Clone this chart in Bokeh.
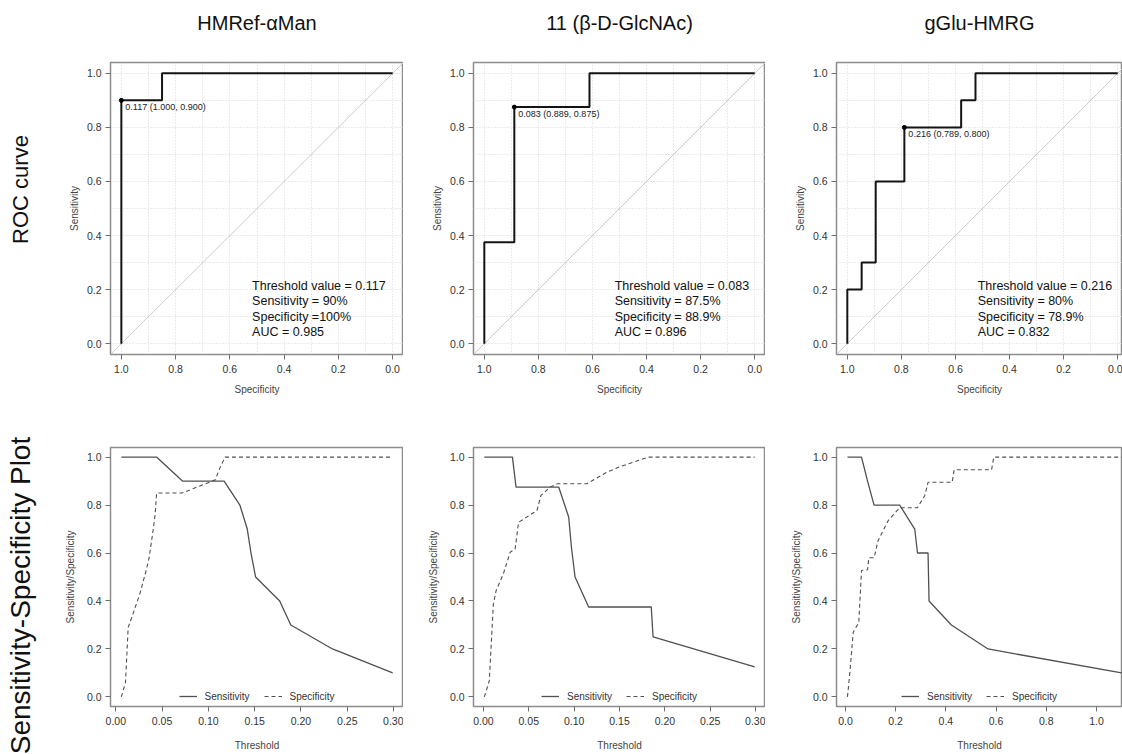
from bokeh.plotting import figure
from bokeh.layouts import row, column
from bokeh.models import (Range1d, FixedTicker, NumeralTickFormatter, Slope, Label,
                          Legend, LegendItem)
from bokeh.embed import file_html
from bokeh.resources import INLINE

FONT = "Liberation Sans"

# ---------------- data ----------------
titles = ["HMRef-\u03b1Man", "11 (\u03b2-D-GlcNAc)", "gGlu-HMRG"]
row_labels = ["ROC curve", "Sensitivity-Specificity Plot"]

roc1_spec = [1.0, 1.0, 0.85, 0.85, 0.0]
roc1_sens = [0.0, 0.9, 0.9, 1.0, 1.0]
roc2_spec = [1.0, 1.0, 0.889, 0.889, 0.611, 0.611, 0.0]
roc2_sens = [0.0, 0.375, 0.375, 0.875, 0.875, 1.0, 1.0]
roc3_spec = [1.0, 1.0, 0.947, 0.947, 0.895, 0.895, 0.789, 0.789, 0.579, 0.579, 0.526, 0.526, 0.0]
roc3_sens = [0.0, 0.2, 0.2, 0.3, 0.3, 0.6, 0.6, 0.8, 0.8, 0.9, 0.9, 1.0, 1.0]

best_thr = ["0.117", "0.083", "0.216"]
best_spec = [1.000, 0.889, 0.789]
best_sens = [0.900, 0.875, 0.800]

stats = [
    ["Threshold value = 0.117", "Sensitivity = 90%", "Specificity =100%", "AUC = 0.985"],
    ["Threshold value = 0.083", "Sensitivity = 87.5%", "Specificity = 88.9%", "AUC = 0.896"],
    ["Threshold value = 0.216", "Sensitivity = 80%", "Specificity = 78.9%", "AUC = 0.832"],
]

ss1_thr_sens = [0.006, 0.044, 0.072, 0.117, 0.134, 0.142, 0.146, 0.151, 0.177, 0.189, 0.234, 0.299]
ss1_sens = [1.0, 1.0, 0.9, 0.9, 0.8, 0.7, 0.6, 0.5, 0.4, 0.3, 0.2, 0.1]
ss1_thr_spec = [0.006, 0.0105, 0.0134, 0.018, 0.026, 0.033, 0.036, 0.0405, 0.0425, 0.0441,
                0.0715, 0.1074, 0.1128, 0.118, 0.299]
ss1_spec = [0.0, 0.06, 0.29, 0.34, 0.43, 0.53, 0.58, 0.70, 0.76, 0.85,
            0.85, 0.905, 0.958, 1.0, 1.0]

ss2_thr_sens = [0.001, 0.032, 0.036, 0.083, 0.094, 0.097, 0.101, 0.116, 0.185, 0.187, 0.299]
ss2_sens = [1.0, 1.0, 0.875, 0.875, 0.75, 0.625, 0.5, 0.375, 0.375, 0.25, 0.125]
ss2_thr_spec = [0.001, 0.0065, 0.011, 0.014, 0.022, 0.0295, 0.035, 0.0387, 0.059, 0.0634,
                0.0737, 0.0817, 0.114, 0.136, 0.151, 0.182, 0.299]
ss2_spec = [0.0, 0.067, 0.387, 0.443, 0.513, 0.603, 0.617, 0.728, 0.777, 0.84,
            0.875, 0.889, 0.889, 0.937, 0.961, 1.0, 1.0]

ss3_thr_sens = [0.008, 0.064, 0.088, 0.114, 0.216, 0.276, 0.287, 0.329, 0.333, 0.422, 0.568, 1.1]
ss3_sens = [1.0, 1.0, 0.9, 0.8, 0.8, 0.7, 0.6, 0.6, 0.4, 0.3, 0.2, 0.1]
ss3_thr_spec = [0.008, 0.017, 0.031, 0.053, 0.064, 0.088, 0.093, 0.114, 0.130, 0.170, 0.216,
                0.287, 0.316, 0.329, 0.425, 0.433, 0.582, 0.591, 1.1]
ss3_spec = [0.0, 0.095, 0.27, 0.31, 0.527, 0.53, 0.58, 0.58, 0.652, 0.735, 0.789,
            0.789, 0.84, 0.895, 0.895, 0.947, 0.947, 1.0, 1.0]

roc_ticks = [0.0, 0.2, 0.4, 0.6, 0.8, 1.0]
roc_minor = [0.1, 0.3, 0.5, 0.7, 0.9]
ss_xticks = [[0.0, 0.05, 0.10, 0.15, 0.20, 0.25, 0.30],
             [0.0, 0.05, 0.10, 0.15, 0.20, 0.25, 0.30],
             [0.0, 0.2, 0.4, 0.6, 0.8, 1.0]]
ss_xfmt = ["0.00", "0.00", "0.0"]

# ---------------- layout constants ----------------
PAGE_W, PAGE_H = 1122, 754
HEAD_H = 40          # header strip with the column titles
SIDE_W = 40          # side strip with the row labels
col_left = [70, 70, 71]
col_frame = [293, 292, 286]
roc_xr = [(1.04, -0.04), (1.04, -0.04), (1.04, -0.0177)]
ss_xr = [(-0.0057, 0.3107), (-0.0109, 0.3109), (-0.0357, 1.1037)]
ROW1 = dict(top=22, frame=292, bottom=46)
ROW2 = dict(top=47, frame=259, bottom=48)
title_y_from_top = 22
row_label_size = ["22px", "28px"]
row_label_center_from_top = [189, 595]
row_label_x = 20

TICK_C = "#333333"
FRAME_C = "#8c8c8c"


def blank_fig(w, h):
    p = figure(width=w, height=h, x_range=Range1d(0, w), y_range=Range1d(0, h),
               output_backend="svg", toolbar_location=None, min_border=0)
    p.axis.visible = False
    p.grid.visible = False
    p.outline_line_color = None
    p.background_fill_color = "white"
    p.border_fill_color = "white"
    return p


def make_fig(ci, rowcfg, xr, xlabel, ylabel, xlabel_standoff, ylabel_standoff):
    w = col_left[ci] + col_frame[ci]
    h = rowcfg["top"] + rowcfg["frame"] + rowcfg["bottom"]
    p = figure(width=w, height=h, x_range=Range1d(*xr), y_range=Range1d(-0.04, 1.04),
               output_backend="svg", toolbar_location=None,
               min_border_left=col_left[ci], min_border_right=0,
               min_border_top=rowcfg["top"], min_border_bottom=rowcfg["bottom"])
    p.background_fill_color = "white"
    p.border_fill_color = "white"
    p.outline_line_color = FRAME_C
    p.outline_line_width = 1.5
    for ax in (p.xaxis[0], p.yaxis[0]):
        ax.axis_line_color = None
        ax.major_tick_line_color = "#6e6e6e"
        ax.major_tick_line_width = 1
        ax.major_tick_out = 5
        ax.major_tick_in = 0
        ax.minor_tick_line_color = None
        ax.major_label_text_font = FONT
        ax.major_label_text_font_size = "10.5px"
        ax.major_label_text_color = TICK_C
        ax.axis_label_text_font = FONT
        ax.axis_label_text_font_size = "10px"
        ax.axis_label_text_font_style = "normal"
        ax.axis_label_text_color = "#444444"
    p.xaxis.axis_label = xlabel
    p.yaxis.axis_label = ylabel
    p.xaxis.major_label_standoff = 5
    p.yaxis.major_label_standoff = 4
    p.xaxis.axis_label_standoff = xlabel_standoff
    p.yaxis.axis_label_standoff = ylabel_standoff
    yt = FixedTicker(ticks=roc_ticks, minor_ticks=roc_minor)
    p.yaxis.ticker = yt
    p.ygrid.ticker = yt
    p.yaxis.formatter = NumeralTickFormatter(format="0.0")
    return p


roc_data = [(roc1_spec, roc1_sens), (roc2_spec, roc2_sens), (roc3_spec, roc3_sens)]
ss_data = [(ss1_thr_sens, ss1_sens, ss1_thr_spec, ss1_spec),
           (ss2_thr_sens, ss2_sens, ss2_thr_spec, ss2_spec),
           (ss3_thr_sens, ss3_sens, ss3_thr_spec, ss3_spec)]

# ---- header strip with column titles ----
header = blank_fig(PAGE_W - SIDE_W, HEAD_H)
x0 = 0
for i in range(3):
    cx = x0 + col_left[i] + col_frame[i] / 2
    header.add_layout(Label(x=cx, y=HEAD_H - title_y_from_top, text=titles[i],
                            text_font=FONT, text_font_size="20px", text_color="#111111",
                            text_align="center", text_baseline="middle"))
    x0 += col_left[i] + col_frame[i]

# ---- side strip with row labels ----
side = blank_fig(SIDE_W, PAGE_H)
for j in range(2):
    side.add_layout(Label(x=row_label_x, y=PAGE_H - row_label_center_from_top[j],
                          text=row_labels[j], angle=90, angle_units="deg", text_font=FONT,
                          text_font_size=row_label_size[j], text_color="#111111",
                          text_align="center", text_baseline="middle"))

# ---- ROC row ----
top_figs = []
for i in range(3):
    p = make_fig(i, ROW1, roc_xr[i], "Specificity", "Sensitivity", 8, 4)
    xt = FixedTicker(ticks=roc_ticks, minor_ticks=roc_minor)
    p.xaxis.ticker = xt
    p.xgrid.ticker = xt
    p.xaxis.formatter = NumeralTickFormatter(format="0.0")
    for g in (p.xgrid[0], p.ygrid[0]):
        g.grid_line_color = "#d6d6d6"
        g.grid_line_dash = "1 2"
        g.grid_line_width = 1
        g.minor_grid_line_color = "#d6d6d6"
        g.minor_grid_line_dash = "1 2"
        g.minor_grid_line_width = 1
    diag = Slope(gradient=-1, y_intercept=1, line_color="#cccccc", line_width=1, level="underlay")
    p.add_layout(diag)
    sx, sy = roc_data[i]
    p.line(sx, sy, line_color="#141414", line_width=2)
    p.scatter([best_spec[i]], [best_sens[i]], size=4, color="black")
    p.add_layout(Label(x=best_spec[i], y=best_sens[i], x_offset=4, y_offset=-2,
                       text=f"{best_thr[i]} ({best_spec[i]:.3f}, {best_sens[i]:.3f})",
                       text_font=FONT, text_font_size="9px", text_color="#222222",
                       text_baseline="top", text_align="left"))
    for k, line_text in enumerate(stats[i]):
        p.add_layout(Label(x=0.518, y=0.215, y_offset=-15.6 * k, text=line_text,
                           text_font=FONT, text_font_size="12.5px", text_color="#111111",
                           text_baseline="middle", text_align="left"))
    top_figs.append(p)

# ---- sensitivity / specificity row ----
bot_figs = []
for i in range(3):
    p = make_fig(i, ROW2, ss_xr[i], "Threshold", "Sensitivity/Specificity", 12, 8)
    xt = FixedTicker(ticks=ss_xticks[i])
    p.xaxis.ticker = xt
    p.xaxis.formatter = NumeralTickFormatter(format=ss_xfmt[i])
    p.grid.visible = False
    ts, sv, tp, spv = ss_data[i]
    r1 = p.line(ts, sv, line_color="#505050", line_width=1.3)
    r2 = p.line(tp, spv, line_color="#505050", line_width=1.1, line_dash="4 3")
    leg = Legend(items=[LegendItem(label="Sensitivity", renderers=[r1]),
                        LegendItem(label="Specificity", renderers=[r2])],
                 location="bottom_center", orientation="horizontal",
                 border_line_color=None, background_fill_alpha=0,
                 label_text_font=FONT, label_text_font_size="10px", label_text_color="#333333",
                 glyph_width=18, glyph_height=12, label_height=12, spacing=14,
                 label_standoff=8, padding=0, margin=4)
    p.add_layout(leg)
    bot_figs.append(p)

main = column(header,
              row(*top_figs, spacing=0),
              row(*bot_figs, spacing=0),
              spacing=0)
layout = row(column(side, spacing=0), main, spacing=0)

open("out.html", "w").write(file_html(layout, INLINE))
